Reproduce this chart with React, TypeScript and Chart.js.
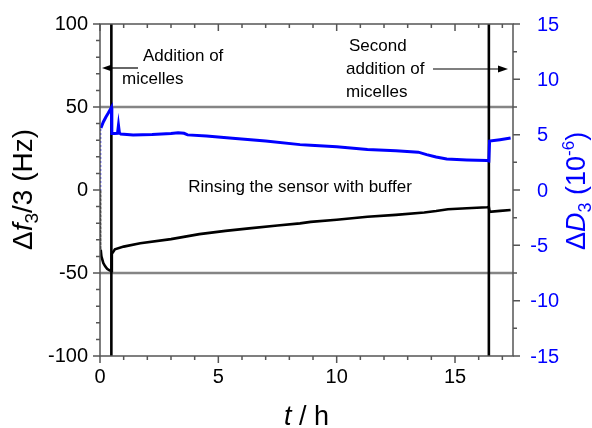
import React, { useEffect, useRef } from 'react';
import { Chart, registerables } from 'chart.js';

Chart.register(...registerables);

// ---- Data ----
const timeShift = [0, 0.03, 0.06, 0.14, 0.22, 0.3, 0.4, 0.48, 0.5, 0.56, 0.63, 1.0, 1.7, 3.0, 4.2, 5.3, 6.3, 7.5, 8.45, 8.9, 10.0, 11.3, 12.5, 13.7, 14.2, 14.7, 15.5, 16.35, 16.43, 16.46, 16.9, 17.35];
const freqShift = [0, -36, -40, -44, -46, -47.5, -48.4, -48.8, -38.5, -37.2, -35.7, -34.1, -32.1, -29.6, -26.6, -24.6, -23.1, -21.4, -20.1, -19.2, -17.9, -16.1, -15, -13.6, -12.7, -11.6, -11, -10.4, -10.3, -13.1, -12.6, -12];

const timeDiss = [0, 0.02, 0.04, 0.14, 0.25, 0.35, 0.48, 0.5, 0.6, 0.74, 0.78, 0.82, 0.88, 1.4, 2.2, 3.0, 3.3, 3.55, 3.7, 4.5, 5.6, 7.0, 8.45, 8.9, 10.0, 11.3, 12.5, 13.45, 13.8, 14.2, 14.65, 15.5, 16.35, 16.43, 16.46, 16.9, 17.35];
const dissipation = [0, 3.0, 5.6, 6.15, 6.6, 6.95, 7.45, 5.1, 5.1, 5.12, 5.85, 5.15, 5.05, 4.98, 5.02, 5.1, 5.18, 5.12, 4.98, 4.88, 4.67, 4.42, 4.1, 4.05, 3.9, 3.67, 3.55, 3.42, 3.2, 2.98, 2.8, 2.72, 2.66, 2.63, 4.42, 4.55, 4.7];

const xTickValues = [0, 5, 10, 15];
const leftTickValues = [-100, -50, 0, 50, 100];
const rightTickValues = [-15, -10, -5, 0, 5, 10, 15];
const xRange = [0, 17.45];
const leftRange = [-100, 100];
const rightRange = [-15, 15];
const eventTimes = [0.48, 16.43];
const referenceLevels = [-50, 50];

const FONT = '"Liberation Sans", Arial, Helvetica, sans-serif';
const BLUE = '#0000ff';

type Part = { text: string; size: number; italic?: boolean; dy?: number };

function partsWidth(ctx: CanvasRenderingContext2D, parts: Part[]) {
  let w = 0;
  for (const p of parts) {
    ctx.font = `${p.italic ? 'italic ' : ''}${p.size}px ${FONT}`;
    w += ctx.measureText(p.text).width;
  }
  return w;
}

function drawParts(ctx: CanvasRenderingContext2D, parts: Part[], x: number, y: number) {
  let cx = x;
  ctx.textAlign = 'left';
  ctx.textBaseline = 'alphabetic';
  for (const p of parts) {
    ctx.font = `${p.italic ? 'italic ' : ''}${p.size}px ${FONT}`;
    ctx.fillText(p.text, cx, y + (p.dy || 0));
    cx += ctx.measureText(p.text).width;
  }
}

function arrow(ctx: CanvasRenderingContext2D, x1: number, x2: number, y: number) {
  const dir = x2 > x1 ? 1 : -1;
  ctx.strokeStyle = '#000';
  ctx.fillStyle = '#000';
  ctx.lineWidth = 1.2;
  ctx.beginPath();
  ctx.moveTo(x1, y);
  ctx.lineTo(x2 - dir * 6, y);
  ctx.stroke();
  ctx.beginPath();
  ctx.moveTo(x2, y);
  ctx.lineTo(x2 - dir * 10, y - 3.5);
  ctx.lineTo(x2 - dir * 10, y + 3.5);
  ctx.closePath();
  ctx.fill();
}

export default function App() {
  const ref = useRef<HTMLCanvasElement>(null);

  useEffect(() => {
    document.body.style.margin = '0';
    const canvas = ref.current!;

    const overlay = {
      id: 'overlay',
      beforeDraw(chart: any) {
        const ctx = chart.ctx;
        ctx.save();
        ctx.fillStyle = '#fff';
        ctx.fillRect(0, 0, chart.width, chart.height);
        ctx.restore();
      },
      beforeDatasetsDraw(chart: any) {
        const ctx = chart.ctx;
        const { left, right, top, bottom } = chart.chartArea;
        const xs = chart.scales.x;
        const ys = chart.scales.y;
        ctx.save();
        ctx.strokeStyle = '#858585';
        ctx.lineWidth = 2.5;
        for (const v of referenceLevels) {
          const py = ys.getPixelForValue(v);
          ctx.beginPath();
          ctx.moveTo(left, py);
          ctx.lineTo(right, py);
          ctx.stroke();
        }
        ctx.strokeStyle = '#000';
        ctx.lineWidth = 2.6;
        for (const t of eventTimes) {
          const px = xs.getPixelForValue(t);
          ctx.beginPath();
          ctx.moveTo(px, top);
          ctx.lineTo(px, bottom);
          ctx.stroke();
        }
        ctx.restore();
      },
      afterDraw(chart: any) {
        const ctx = chart.ctx;
        const { left, right, top, bottom } = chart.chartArea;
        const xs = chart.scales.x;
        const ys = chart.scales.y;
        const y1 = chart.scales.y1;
        ctx.save();
        ctx.strokeStyle = '#555';
        ctx.lineWidth = 1.5;
        ctx.strokeRect(left, top, right - left, bottom - top);
        ctx.beginPath();
        for (let v = 0; v <= xRange[1]; v += 1) {
          const px = xs.getPixelForValue(v);
          const major = v % 5 === 0;
          ctx.moveTo(px, bottom);
          ctx.lineTo(px, bottom + (major ? 7 : 4));
          ctx.moveTo(px, top);
          ctx.lineTo(px, top + (major ? 7 : 4));
        }
        for (let v = leftRange[0]; v <= leftRange[1]; v += 10) {
          const py = ys.getPixelForValue(v);
          const major = v % 50 === 0;
          ctx.moveTo(left, py);
          ctx.lineTo(left - (major ? 7 : 4), py);
        }
        for (let v = rightRange[0]; v <= rightRange[1]; v += 2.5) {
          const py = y1.getPixelForValue(v);
          const major = v % 5 === 0;
          ctx.moveTo(right, py);
          ctx.lineTo(right + (major ? 7 : 4), py);
        }
        ctx.stroke();

        ctx.fillStyle = BLUE;
        ctx.font = `20px ${FONT}`;
        ctx.textAlign = 'left';
        ctx.textBaseline = 'middle';
        const minusW = ctx.measureText('-').width;
        for (const v of rightTickValues) {
          const py = y1.getPixelForValue(v);
          const s = String(v);
          const x0 = right + 24 - (v < 0 ? minusW : 0);
          ctx.fillText(s, x0, py + 1);
        }

        ctx.fillStyle = '#000';
        ctx.save();
        ctx.translate(32, 250);
        ctx.rotate(-Math.PI / 2);
        drawParts(ctx, [
          { text: 'Δ', size: 28 },
          { text: 'f', size: 28, italic: true },
          { text: '3', size: 19, dy: 6 },
          { text: '/3 (Hz)', size: 28 },
        ], 0, 0);
        ctx.restore();

        ctx.fillStyle = BLUE;
        ctx.save();
        ctx.translate(585, 250);
        ctx.rotate(-Math.PI / 2);
        drawParts(ctx, [
          { text: 'Δ', size: 27 },
          { text: 'D', size: 27, italic: true },
          { text: '3', size: 18, dy: 6 },
          { text: ' (10', size: 27 },
          { text: '-6', size: 17, dy: -11 },
          { text: ')', size: 27 },
        ], 0, 0);
        ctx.restore();

        ctx.fillStyle = '#000';
        const xTitle: Part[] = [
          { text: 't', size: 27, italic: true },
          { text: ' / h', size: 27 },
        ];
        const w = partsWidth(ctx, xTitle);
        drawParts(ctx, xTitle, (left + right) / 2 - w / 2, 425);

        ctx.font = `17px ${FONT}`;
        ctx.textAlign = 'left';
        ctx.textBaseline = 'middle';
        ctx.fillText('Addition of', 143, 56);
        ctx.fillText('micelles', 122, 79);
        ctx.fillText('Second', 349, 46);
        ctx.fillText('addition of', 346, 69);
        ctx.fillText('micelles', 346, 92);
        ctx.textAlign = 'center';
        ctx.fillText('Rinsing the sensor with buffer', 300, 187);
        arrow(ctx, 138, 102, 68);
        arrow(ctx, 433, 508, 69);
        ctx.restore();
      },
    };

    const chart = new Chart(canvas, {
      type: 'scatter',
      data: {
        datasets: [
          {
            label: 'Δf3/3',
            data: timeShift.map((t, i) => ({ x: t, y: freqShift[i] })),
            yAxisID: 'y',
            showLine: true,
            borderColor: '#000',
            backgroundColor: '#000',
            borderWidth: 2.6,
            pointRadius: 0,
            tension: 0,
            segment: {
              borderDash: (c: any) => (c.p0DataIndex < 1 ? [1.5, 2.5] : undefined),
              borderWidth: (c: any) => (c.p0DataIndex < 1 ? 1.2 : undefined),
            },
          },
          {
            label: 'ΔD3',
            data: timeDiss.map((t, i) => ({ x: t, y: dissipation[i] })),
            yAxisID: 'y1',
            showLine: true,
            borderColor: BLUE,
            backgroundColor: BLUE,
            borderWidth: 3,
            pointRadius: 0,
            tension: 0,
            segment: {
              borderDash: (c: any) => (c.p0DataIndex < 2 ? [1.5, 2.5] : undefined),
              borderWidth: (c: any) => (c.p0DataIndex < 2 ? 1.2 : undefined),
            },
          },
        ],
      },
      options: {
        animation: false,
        responsive: false,
        layout: { padding: { top: 24, left: 0, right: 0, bottom: 0 } },
        plugins: { legend: { display: false }, tooltip: { enabled: false } },
        scales: {
          x: {
            type: 'linear',
            min: xRange[0],
            max: xRange[1],
            grid: { display: false, drawTicks: false },
            border: { display: false },
            afterBuildTicks: (s: any) => { s.ticks = xTickValues.map((v) => ({ value: v })); },
            ticks: {
              color: '#000',
              font: { family: FONT, size: 20 },
              padding: 9,
              maxRotation: 0,
              autoSkip: false,
            },
            afterFit: (s: any) => { s.height = 72; },
          },
          y: {
            type: 'linear',
            position: 'left',
            min: leftRange[0],
            max: leftRange[1],
            grid: { display: false, drawTicks: false },
            border: { display: false },
            afterBuildTicks: (s: any) => { s.ticks = leftTickValues.map((v) => ({ value: v })); },
            ticks: {
              color: '#000',
              font: { family: FONT, size: 20 },
              padding: 12,
              autoSkip: false,
            },
            afterFit: (s: any) => { s.width = 100; },
          },
          y1: {
            type: 'linear',
            position: 'right',
            min: rightRange[0],
            max: rightRange[1],
            grid: { display: false, drawTicks: false },
            border: { display: false },
            afterBuildTicks: (s: any) => { s.ticks = rightTickValues.map((v) => ({ value: v })); },
            ticks: { display: false },
            afterFit: (s: any) => { s.width = 79; },
          },
        },
      },
      plugins: [overlay],
    } as any);

    return () => chart.destroy();
  }, []);

  return (
    <div style={{ position: 'absolute', left: 0, top: 0, width: 592, height: 428 }}>
      <canvas ref={ref} width={592} height={428} style={{ display: 'block' }} />
    </div>
  );
}
